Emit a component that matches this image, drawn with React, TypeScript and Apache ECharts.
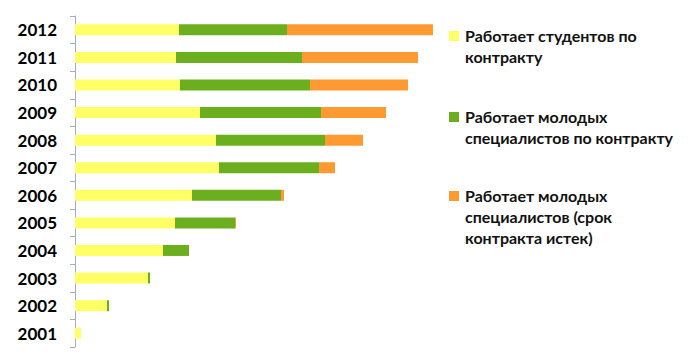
import React, { useEffect, useRef } from "react";
import * as echarts from "echarts";

const years = ["2001", "2002", "2003", "2004", "2005", "2006", "2007", "2008", "2009", "2010", "2011", "2012"];
const students = [6, 32, 73, 88, 100, 117, 144, 141, 125, 105, 101, 104];
const youngContract = [0, 2, 2, 26, 60, 89, 100, 109, 121, 130, 126, 108];
const youngExpired = [0, 0, 0, 0, 1, 3, 16, 38, 65, 98, 116, 146];
const seriesNames = [
  "Работает студентов по\nконтракту",
  "Работает молодых\nспециалистов по контракту",
  "Работает молодых\nспециалистов (срок\nконтракта истек)",
];
const colors = ["#FFFF66", "#6BAF1E", "#FF9A33"];

export default function App() {
  const ref = useRef<HTMLDivElement>(null);
  useEffect(() => {
    if (!ref.current) return;
    const chart = echarts.init(ref.current, null, { renderer: "svg" });
    const data = [students, youngContract, youngExpired];
    const legendY = [36, 117, 196];
    const graphic: any[] = [];
    seriesNames.forEach((n, i) => {
      graphic.push({
        type: "rect",
        shape: { x: 449, y: legendY[i] - 5, width: 10, height: 10 },
        style: { fill: colors[i] },
      });
      graphic.push({
        type: "text",
        x: 465,
        y: legendY[i] - 11,
        style: {
          text: n,
          fill: "#111",
          font: "bold 16px Lato, 'Noto Sans', sans-serif",
          lineHeight: 21,
          verticalAlign: "top",
        },
      });
    });
    chart.setOption({
      animation: false,
      grid: { left: 75, top: 16, width: 400, height: 331 },
      xAxis: { type: "value", min: 0, max: 400, show: false },
      yAxis: {
        type: "category",
        data: years,
        axisLine: { show: true, lineStyle: { color: "#A5ADBC", width: 1 } },
        axisTick: { show: true, length: 5, lineStyle: { color: "#A5ADBC" } },
        axisLabel: {
          color: "#000",
          fontSize: 17,
          fontWeight: "bold",
          fontFamily: "Lato, 'Noto Sans', sans-serif",
          margin: 18,
        },
        splitLine: { show: false },
      },
      series: data.map((d, i) => ({
        type: "bar",
        name: seriesNames[i],
        stack: "total",
        data: d,
        barWidth: 11,
        itemStyle: { color: colors[i] },
      })),
      graphic,
    });
    return () => chart.dispose();
  }, []);
  return <div ref={ref} style={{ position: "absolute", left: 0, top: 0, width: 700, height: 356 }} />;
}
